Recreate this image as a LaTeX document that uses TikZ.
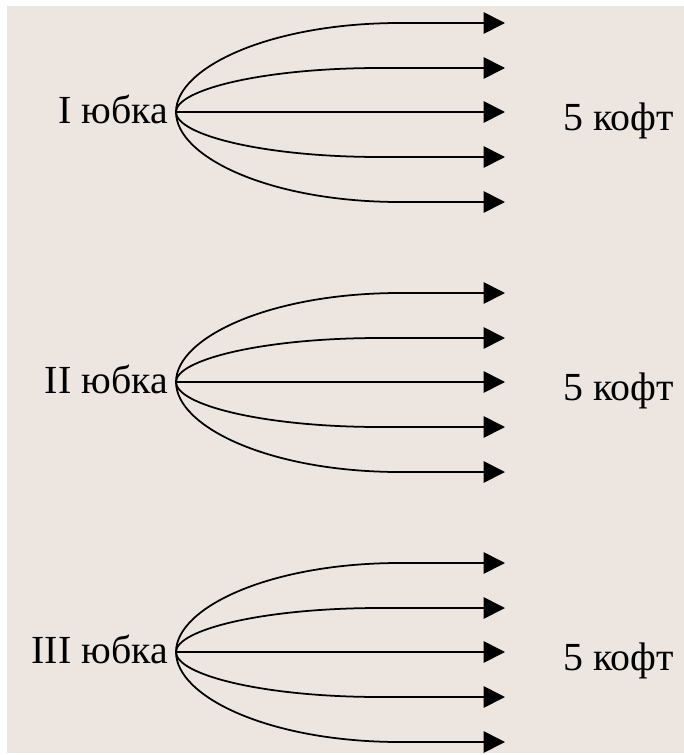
\documentclass[tikz,border=0pt]{standalone}
\usepackage{fontspec}
\setmainfont{Liberation Serif}
\usetikzlibrary{arrows.meta}
\definecolor{paper}{RGB}{237,230,224}
\tikzset{
    branch/.style={line width=1.5pt, -{Triangle[length=0.64cm, width=0.64cm]}}, % стрелка к кофте
    label text/.style={font=\fontsize{34}{38}\selectfont, inner sep=0pt} % подписи
}

\begin{document}
\begin{tikzpicture}[x=0.03cm, y=-0.03cm]
    \useasboundingbox (0,0) rectangle (684,755);
    \fill[paper] (7,6) rectangle (684,753);

    \foreach \g/\num/\cy in {1/I/112, 2/II/382, 3/III/652} {
        \coordinate (s\g) at (176,\cy);
        \node[label text, anchor=base east] (skirt\g) at (168,\cy+11) {\num\ юбка};
        \node[label text, anchor=base west] (tops\g) at (563,\cy+18) {5 кофт};

        \foreach \i/\dy/\hx in {1/-89/400, 2/-44/380, 4/45/380, 5/90/400} {
            \coordinate (b\g\i) at (\hx,\cy+\dy);
            \coordinate (t\g\i) at (505,\cy+\dy);
            \draw[branch] (s\g) .. controls +(0,0.5*\dy) and +(-0.58*\hx+102,0) .. (b\g\i) -- (t\g\i);
        }

        \coordinate (t\g3) at (505,\cy);
        \draw[branch] (s\g) -- (t\g3);
    }
\end{tikzpicture}
\end{document}
